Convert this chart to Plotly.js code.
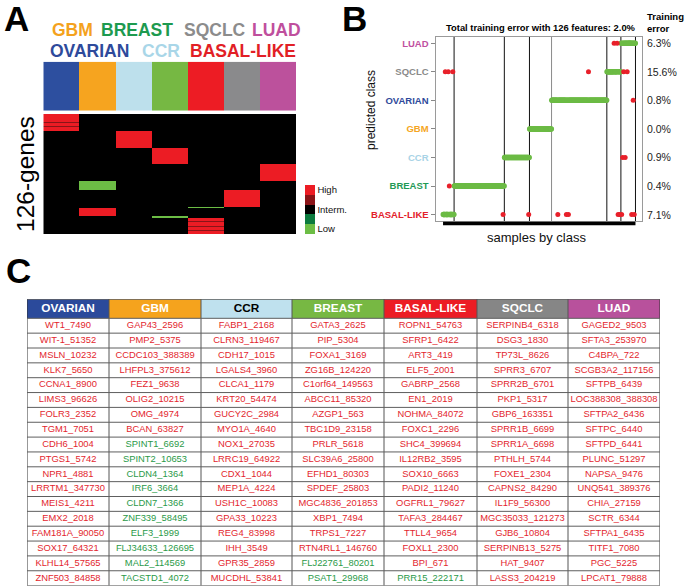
<!DOCTYPE html>
<html><head><meta charset="utf-8">
<script src="https://cdn.plot.ly/plotly-3.0.1.min.js"></script>
<style>html,body{margin:0;padding:0;background:#fff}#chart{width:685px;height:588px}</style>
</head><body><div id="chart"></div>
<script>
// ---------- shared class definitions ----------
const classes = ['OVARIAN','GBM','CCR','BREAST','BASAL-LIKE','SQCLC','LUAD'];
const classTextColors = ['#2e4a9b','#f4a21d','#a9d6e8','#1d9a4f','#e21f26','#8c8c8c','#bf4f9d'];
const classBlockColors = ['#2d4f9f','#f6a41f','#bde0ec','#76b843','#ed1c24','#8a8a8c','#bc519c'];
const headerFillColors = ['#2b4a9b','#f5a31d','#bfe1ee','#77b843','#ec1c24','#868686','#b8519c'];
const headerTextColors = ['#ffffff','#ffffff','#000000','#ffffff','#ffffff','#ffffff','#ffffff'];

// ---------- panel C gene table ----------
const genesOVARIAN = ['WT1_7490','WIT-1_51352','MSLN_10232','KLK7_5650','CCNA1_8900','LIMS3_96626','FOLR3_2352','TGM1_7051','CDH6_1004','PTGS1_5742','NPR1_4881','LRRTM1_347730','MEIS1_4211','EMX2_2018','FAM181A_90050','SOX17_64321','KLHL14_57565','ZNF503_84858'];
const genesGBM = ['GAP43_2596','PMP2_5375','CCDC103_388389','LHFPL3_375612','FEZ1_9638','OLIG2_10215','OMG_4974','BCAN_63827','SPINT1_6692','SPINT2_10653','CLDN4_1364','IRF6_3664','CLDN7_1366','ZNF339_58495','ELF3_1999','FLJ34633_126695','MAL2_114569','TACSTD1_4072'];
const genesCCR = ['FABP1_2168','CLRN3_119467','CDH17_1015','LGALS4_3960','CLCA1_1179','KRT20_54474','GUCY2C_2984','MYO1A_4640','NOX1_27035','LRRC19_64922','CDX1_1044','MEP1A_4224','USH1C_10083','GPA33_10223','REG4_83998','IHH_3549','GPR35_2859','MUCDHL_53841'];
const genesBREAST = ['GATA3_2625','PIP_5304','FOXA1_3169','ZG16B_124220','C1orf64_149563','ABCC11_85320','AZGP1_563','TBC1D9_23158','PRLR_5618','SLC39A6_25800','EFHD1_80303','SPDEF_25803','MGC4836_201853','XBP1_7494','TRPS1_7227','RTN4RL1_146760','FLJ22761_80201','PSAT1_29968'];
const genesBASAL = ['ROPN1_54763','SFRP1_6422','ART3_419','ELF5_2001','GABRP_2568','EN1_2019','NOHMA_84072','FOXC1_2296','SHC4_399694','IL12RB2_3595','SOX10_6663','PADI2_11240','OGFRL1_79627','TAFA3_284467','TTLL4_9654','FOXL1_2300','BPI_671','PRR15_222171'];
const genesSQCLC = ['SERPINB4_6318','DSG3_1830','TP73L_8626','SPRR3_6707','SPRR2B_6701','PKP1_5317','GBP6_163351','SPRR1B_6699','SPRR1A_6698','PTHLH_5744','FOXE1_2304','CAPNS2_84290','IL1F9_56300','MGC35033_121273','GJB6_10804','SERPINB13_5275','HAT_9407','LASS3_204219'];
const genesLUAD = ['GAGED2_9503','SFTA3_253970','C4BPA_722','SCGB3A2_117156','SFTPB_6439','LOC388308_388308','SFTPA2_6436','SFTPC_6440','SFTPD_6441','PLUNC_51297','NAPSA_9476','UNQ541_389376','CHIA_27159','SCTR_6344','SFTPA1_6435','TITF1_7080','PGC_5225','LPCAT1_79888'];
// genes printed in green (low in their class); all others printed red (high)
const downGenes = ['SPINT1_6692','SPINT2_10653','CLDN4_1364','IRF6_3664','CLDN7_1366','ZNF339_58495','ELF3_1999','FLJ34633_126695','MAL2_114569','TACSTD1_4072','FLJ22761_80201','PSAT1_29968','PRR15_222171'];
const upTextColor = '#e3262e', downTextColor = '#2a9a48';

// ---------- panel A heatmap: order of gene blocks (top to bottom) ----------
const heatBlockClass = ['OVARIAN','CCR','BREAST','LUAD','GBM','SQCLC','BASAL-LIKE','GBM','BREAST','BASAL-LIKE'];
const heatBlockDir   = ['up','up','up','up','down','up','down','up','down','up'];
// genes that show only moderately high (dark red rows) in the heatmap
const moderateGenes = ['CDH6_1004','EMX2_2018','ELF5_2001','IL12RB2_3595','TAFA3_284467'];
const highValue = 1, moderateValue = 0.5, lowValue = -1;

// ---------- panel B ----------
const bClasses = ['BASAL-LIKE','BREAST','CCR','GBM','OVARIAN','SQCLC','LUAD']; // rows bottom->top, and sample order
const bLabelColors = ['#e3202a','#1f9a55','#a8d3e6','#f5a623','#2e4a9b','#8a8a8a','#c04fa0'];
const sampleCounts = [22,100,50,44,110,28,29];
const trainingError = ['7.1%','0.4%','0.9%','0.0%','0.8%','15.6%','6.3%'];
const misSample    = [4,10,19,12,119,170,228,245,249,289,340,346,348,351,355,357,359,362,366,375,378,380];
const misPredicted = ['SQCLC','SQCLC','SQCLC','BREAST','BASAL-LIKE','BASAL-LIKE','BASAL-LIKE','BASAL-LIKE','BASAL-LIKE','SQCLC','LUAD','LUAD','BASAL-LIKE','BASAL-LIKE','BASAL-LIKE','CCR','SQCLC','CCR','SQCLC','BASAL-LIKE','OVARIAN','BASAL-LIKE'];
const nFeatures = 126, totalError = '2.0%';

// ---------- helpers / layout constants ----------
const W = 685, H = 588;
const px = x => x / W, py = y => 1 - y / H;
const SANS = 'Liberation Sans, Arial, sans-serif';
const geneLists = [genesOVARIAN,genesGBM,genesCCR,genesBREAST,genesBASAL,genesSQCLC,genesLUAD];

// ---------- build heatmap ----------
const z = [];
heatBlockClass.forEach((cls, b) => {
  const ci = classes.indexOf(cls);
  geneLists[ci].forEach(g => {
    const isDown = downGenes.includes(g);
    if ((heatBlockDir[b] === 'down') !== isDown) return;
    const v = isDown ? lowValue : (moderateGenes.includes(g) ? moderateValue : highValue);
    z.push(classes.map((c, j) => j === ci ? v : 0));
  });
});
const stepScale = [[0,'#6cbd45'],[0.2,'#6cbd45'],[0.2,'#0b7a3e'],[0.4,'#0b7a3e'],[0.4,'#000000'],[0.6,'#000000'],[0.6,'#8a1418'],[0.8,'#8a1418'],[0.8,'#ec1c24'],[1,'#ec1c24']];
const discreteScale = cols => { const s = []; cols.forEach((c,i) => { s.push([i/cols.length, c]); s.push([(i+1)/cols.length, c]); }); return s; };

// ---------- build panel B points ----------
const bounds = [0];
sampleCounts.forEach(n => bounds.push(bounds[bounds.length-1] + n));
const total = bounds[bounds.length-1];
const gx = [], gy = [], rx = [], ry = [];
for (let s = 0; s < total; s++) {
  let k = 0; while (s >= bounds[k+1]) k++;
  const m = misSample.indexOf(s);
  if (m >= 0) { rx.push(s + 0.5); ry.push(bClasses.indexOf(misPredicted[m])); }
  else { gx.push(s + 0.5); gy.push(k); }
}

// ---------- build table geometry (pixel units inside its subplot) ----------
const colWidths = [82,92,91,92,93,91,92];
const headerH = 19, rowH = 14.85;
const colEdges = [0]; colWidths.forEach(w => colEdges.push(colEdges[colEdges.length-1] + w));
const colMid = colWidths.map((w,i) => colEdges[i] + w/2);
const nRows = Math.max(...geneLists.map(l => l.length));
const rowEdges = [0, headerH]; for (let r = 0; r < nRows; r++) rowEdges.push(headerH + rowH*(r+1));
const tableW = colEdges[colEdges.length-1], tableH = rowEdges[rowEdges.length-1];
const tx = [], ty = [], tt = [], tc = [];
geneLists.forEach((l, ci) => l.forEach((g, r) => {
  tx.push(colMid[ci]); ty.push(headerH + rowH*(r+0.5)); tt.push(g);
  tc.push(downGenes.includes(g) ? downTextColor : upTextColor);
}));

const traces = [
  {type:'heatmap', z:[classes.map((c,i)=>i)], x:classes.map((c,i)=>i), xaxis:'x', yaxis:'y',
   colorscale:discreteScale(classBlockColors), zmin:-0.5, zmax:6.5, showscale:false, hoverinfo:'skip'},
  {type:'heatmap', z:z, x:classes.map((c,i)=>i), xaxis:'x2', yaxis:'y2', zmin:-1, zmax:1,
   colorscale:stepScale, hoverinfo:'skip',
   colorbar:{x:px(305), xanchor:'left', xpad:0, thickness:10, thicknessmode:'pixels',
     len:49, lenmode:'pixels', y:py(209.5), yanchor:'middle', ypad:0, outlinewidth:0,
     tickvals:[0.8,0,-0.8], ticktext:['High','Interm.','Low'], ticks:'',
     tickfont:{size:9.5, family:SANS, color:'#111'}}},
  {type:'scatter', mode:'markers', x:gx, y:gy, xaxis:'x3', yaxis:'y3',
   marker:{color:'#6cbb45', size:5.5}, hoverinfo:'skip'},
  {type:'scatter', mode:'markers', x:rx, y:ry, xaxis:'x3', yaxis:'y3',
   marker:{color:'#e8202a', size:5}, hoverinfo:'skip'},
  // table header fills
  {type:'heatmap', z:[classes.map((c,i)=>i)], x:colEdges, y:[0, headerH], xaxis:'x4', yaxis:'y4',
   colorscale:discreteScale(headerFillColors), zmin:-0.5, zmax:6.5, showscale:false, hoverinfo:'skip'},
  // header texts
  {type:'scatter', mode:'text', x:colMid, y:classes.map(()=>headerH/2), text:classes.map(c=>'<b>'+c+'</b>'),
   xaxis:'x4', yaxis:'y4', textposition:'middle center', hoverinfo:'skip',
   textfont:{family:SANS, size:11.8, color:headerTextColors}},
  // cell texts
  {type:'scatter', mode:'text', x:tx, y:ty, text:tt, xaxis:'x4', yaxis:'y4',
   textposition:'middle center', hoverinfo:'skip', cliponaxis:false,
   textfont:{family:SANS, size:9.4, color:tc}}
];

const shapes = [];
bounds.slice(1).forEach((b, i) => {
  shapes.push({type:'line', xref:'x3', yref:'y3 domain', x0:b, x1:b, y0:0, y1:1,
    line:{color: i === 3 ? '#8a8a8a' : '#111', width:1}, layer:'below'});
});
shapes.push({type:'line', xref:'x3', yref:'paper', x0:0, x1:total, y0:py(223.4), y1:py(223.4),
  line:{color:'#000', width:3.5}});
// table grid
colEdges.forEach((e, i) => shapes.push({type:'line', xref:'x4', yref:'y4', x0:e, x1:e, y0:0, y1:tableH,
  line:{color: (i===0||i===colEdges.length-1) ? '#333' : '#555', width:1}}));
rowEdges.forEach((e, i) => shapes.push({type:'line', xref:'x4', yref:'y4', x0:0, x1:tableW, y0:e, y1:e,
  line:{color: (i===0||i===rowEdges.length-1) ? '#333' : '#5e5e5e', width:1}}));

const ann = [];
[['A',2,18],['B',340,18],['C',4,270]].forEach(([t,x,y]) => ann.push({text:'<b>'+t+'</b>',
  xref:'paper', yref:'paper', x:px(x), y:py(y), xanchor:'left', yanchor:'middle', showarrow:false,
  font:{family:SANS, size:35, color:'#000'}}));
const labelPos = {'GBM':[72,30],'BREAST':[136.7,30],'SQCLC':[215,30],'LUAD':[276,30],
  'OVARIAN':[89.2,51.3],'CCR':[160.8,51.3],'BASAL-LIKE':[243,51.3]};
classes.forEach((c,i) => { const p = labelPos[c]; ann.push({text:'<b>'+c+'</b>', xref:'paper', yref:'paper',
  x:px(p[0]), y:py(p[1]), xanchor:'center', yanchor:'middle', showarrow:false,
  font:{family:SANS, size:17.5, color:classTextColors[i]}}); });
ann.push({text:nFeatures+'-genes', textangle:-90, xref:'paper', yref:'paper', x:px(25), y:py(174),
  xanchor:'center', yanchor:'middle', showarrow:false, font:{family:SANS, size:24.5, color:'#000'}});
ann.push({text:'<b>Total training error with '+nFeatures+' features: '+totalError+'</b>', xref:'paper', yref:'paper',
  x:px(541), y:py(27.5), xanchor:'center', yanchor:'middle', showarrow:false,
  font:{family:SANS, size:9.4, color:'#000'}});
ann.push({text:'<b>Training<br>error</b>', xref:'paper', yref:'paper', x:px(645), y:py(22.5),
  xanchor:'left', yanchor:'middle', align:'left', showarrow:false,
  font:{family:SANS, size:9.5, color:'#000'}});
trainingError.forEach((e,i) => ann.push({text:e, xref:'paper', yref:'y3', x:px(645), y:i,
  xanchor:'left', yanchor:'middle', showarrow:false, font:{family:SANS, size:10.5, color:'#222'}}));
ann.push({text:'predicted class', textangle:-90, xref:'paper', yref:'paper', x:px(371), y:py(110),
  xanchor:'center', yanchor:'middle', showarrow:false, font:{family:SANS, size:12, color:'#111'}});
ann.push({text:'samples by class', xref:'paper', yref:'paper', x:px(536.7), y:py(237.5),
  xanchor:'center', yanchor:'middle', showarrow:false, font:{family:SANS, size:13, color:'#111'}});

const hidden = {visible:false, fixedrange:true};
const layout = {
  width:W, height:H, margin:{l:0,r:0,t:0,b:0}, paper_bgcolor:'#fff', plot_bgcolor:'rgba(0,0,0,0)',
  showlegend:false, shapes:shapes, annotations:ann,
  xaxis:Object.assign({domain:[px(43.3), px(296)], range:[-0.5,6.5]}, hidden),
  yaxis:Object.assign({domain:[py(110.7), py(61.7)], range:[-0.5,0.5]}, hidden),
  xaxis2:Object.assign({domain:[px(43.3), px(296)], range:[-0.5,6.5], anchor:'y2'}, hidden),
  yaxis2:Object.assign({domain:[py(234.3), py(114)], range:[z.length-0.5,-0.5], anchor:'x2'}, hidden),
  xaxis3:{domain:[px(435.5), px(641.5)], range:[-15,395], anchor:'y3', showticklabels:false, ticks:'',
    showgrid:false, zeroline:false, showline:true, mirror:true, linecolor:'#9a9a9a', linewidth:1},
  yaxis3:{domain:[py(221), py(36.7)], range:[-0.225,6.23], anchor:'x3', showgrid:false, zeroline:false,
    showline:true, mirror:true, linecolor:'#9a9a9a', linewidth:1, ticks:'outside', ticklen:4, tickcolor:'#888',
    tickvals:bClasses.map((c,i)=>i),
    ticktext:bClasses.map((c,i)=>'<span style="color:'+bLabelColors[i]+'">'+c+'</span>'),
    tickfont:{family:SANS, size:9.5, weight:'bold'}},
  xaxis4:Object.assign({domain:[px(27), px(27+tableW)], range:[0, tableW], anchor:'y4'}, hidden),
  yaxis4:Object.assign({domain:[py(299.3+tableH), py(299.3)], range:[tableH, 0], anchor:'x4'}, hidden)
};
Plotly.newPlot('chart', traces, layout, {staticPlot:true, displayModeBar:false});
</script></body></html>
